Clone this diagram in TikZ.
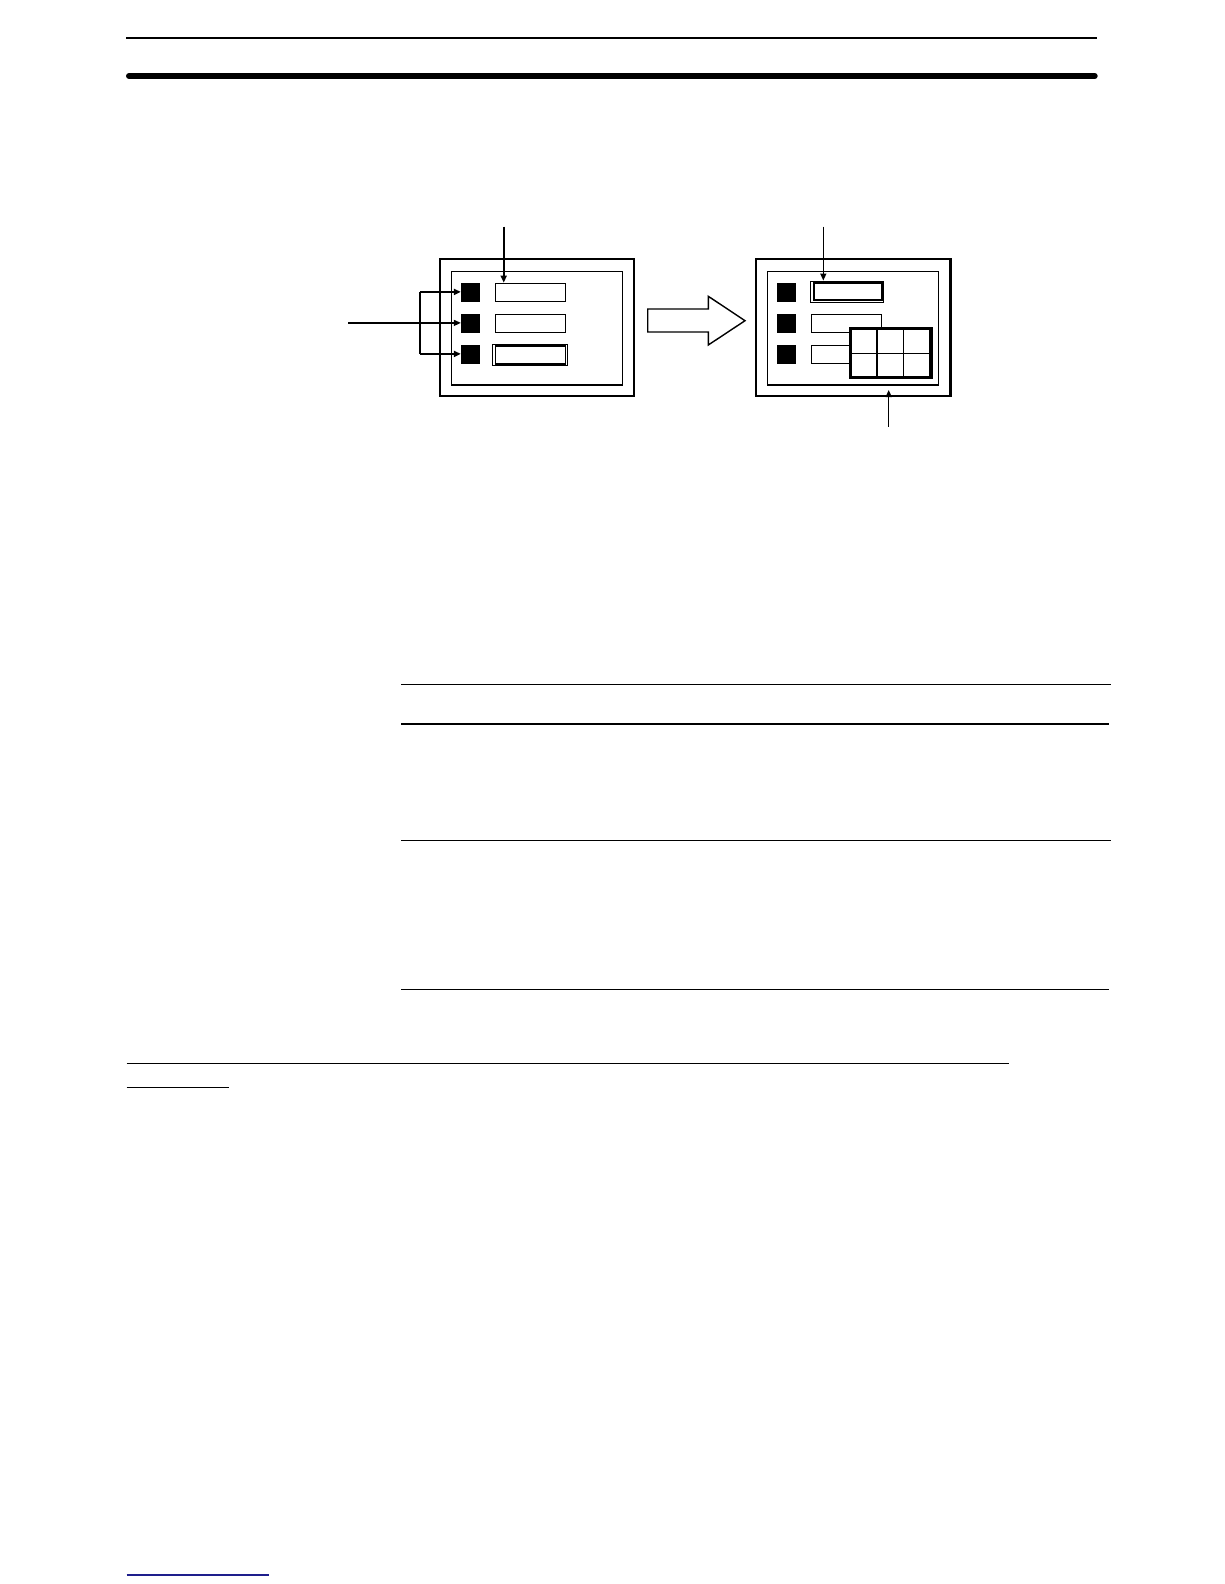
\documentclass[tikz,border=0pt]{standalone}
\usetikzlibrary{arrows.meta}
\definecolor{linkblue}{RGB}{30,30,140}
\begin{document}
\begin{tikzpicture}[x=1pt,y=-1pt,
  rule/.style={line width=1.6pt},
  frame/.style={draw, line width=2.4pt, inner sep=0pt, minimum width=194pt, minimum height=137pt},
  panel/.style={draw, line width=1.3pt, inner sep=0pt, minimum width=171pt, minimum height=113.7pt},
  key/.style={draw, fill=black, inner sep=0pt, minimum size=17.7pt},
  field/.style={draw, line width=1.1pt, fill=white, inner sep=0pt, minimum width=70.4pt, minimum height=18pt},
  fieldo/.style={draw, line width=1pt, inner sep=0pt},
  pad/.style={draw, line width=2.2pt, fill=white, inner sep=0pt, minimum width=79.6pt, minimum height=47.7pt},
  arr/.style={-{Triangle[length=7pt,width=6pt]}},
  bigarrow/.style={draw, line width=1.4pt, line join=miter}]
\useasboundingbox (0,0) rectangle (1224,1584);

% page rules
\draw[line width=2pt] (126,37.7) -- (1097.3,37.7);
\draw[line width=6pt, line cap=round] (129,76) -- (1094.7,76);
\draw[rule] (401.3,684.3) -- (1110.7,684.3);
\draw[rule] (401.3,724) -- (1109.3,724);
\draw[rule] (401.3,840.3) -- (1110.7,840.3);
\draw[rule] (401.3,989.3) -- (1109.3,989.3);
\draw[rule] (126.7,1063.3) -- (1009.3,1063.3);
\draw[rule] (126.7,1087.3) -- (228.7,1087.3);
\draw[rule, linkblue] (126.7,1575) -- (269,1575);

% left screen
\node[frame] (lfr) at (537,327.5) {};
\node[panel] (lpn) at (536.8,328.2) {};
\node[key] (lk1) at (469.9,291.9) {};
\node[key] (lk2) at (469.9,322.9) {};
\node[key] (lk3) at (469.9,353.9) {};
\node[field] (lf1) at (530.5,292.2) {};
\node[field] (lf2) at (530.5,323.3) {};
\node[fieldo, minimum width=74.7pt, minimum height=21.4pt] (lf3o) at (530.3,355) {};
\node[field] (lf3) at (530.5,355) {};

% left connectors
\coordinate (ltop) at (503.7,226.7);
\draw[arr, line width=2.2pt] (ltop) -- (ltop |- lf1.north);
\coordinate (lin) at (348.3,322.9);
\draw[arr, line width=1.3pt] (lin) -- (lk2.west);
\coordinate (bt) at (420.3,291.9);
\coordinate (bb) at (420.3,353.9);
\draw[line width=2pt] (bt) -- (bb);
\draw[arr, line width=2pt] (bt) -- (lk1.west);
\draw[arr, line width=2pt] (bb) -- (lk3.west);

% hollow arrow
\draw[bigarrow] (647.7,309) coordinate (ha) -- (708.3,309) -- (708.3,296.3) -- (745,320.7) -- (708.3,345) -- (708.3,332) -- (647.7,332) -- cycle;

% right screen
\node[frame, minimum width=194.6pt] (rfr) at (853,327.5) {};
\node[panel] (rpn) at (852.8,328.2) {};
\node[key] (rk1) at (785.9,291.9) {};
\node[key] (rk2) at (785.9,322.9) {};
\node[key] (rk3) at (785.9,353.9) {};
\node[fieldo, minimum width=73.7pt, minimum height=21.7pt] (rf1o) at (846.9,291.9) {};
\node[draw, line width=1.9pt, inner sep=0pt, minimum width=68pt, minimum height=17pt] (rf1) at (847.6,291.9) {};
\node[field] (rf2) at (846.5,323.3) {};
\node[field] (rf3) at (846.5,354.5) {};
\node[pad] (kp) at (890.5,353.2) {};
\draw[line width=1.1pt] (877,329.3) -- (877,377) (903.7,329.3) -- (903.7,377) (850.7,353.3) -- (930.3,353.3);
\draw[line width=2.2pt] (kp.north west) rectangle (kp.south east);

% right connectors
\coordinate (rtop) at (823.3,226.7);
\draw[arr, line width=1.3pt] (rtop) -- (rtop |- rf1o.north);
\coordinate (rbot) at (888.7,426.7);
\coordinate (rbtip) at (888.7,390);
\draw[arr, line width=1.3pt] (rbot) -- (rbtip);
\end{tikzpicture}
\end{document}
